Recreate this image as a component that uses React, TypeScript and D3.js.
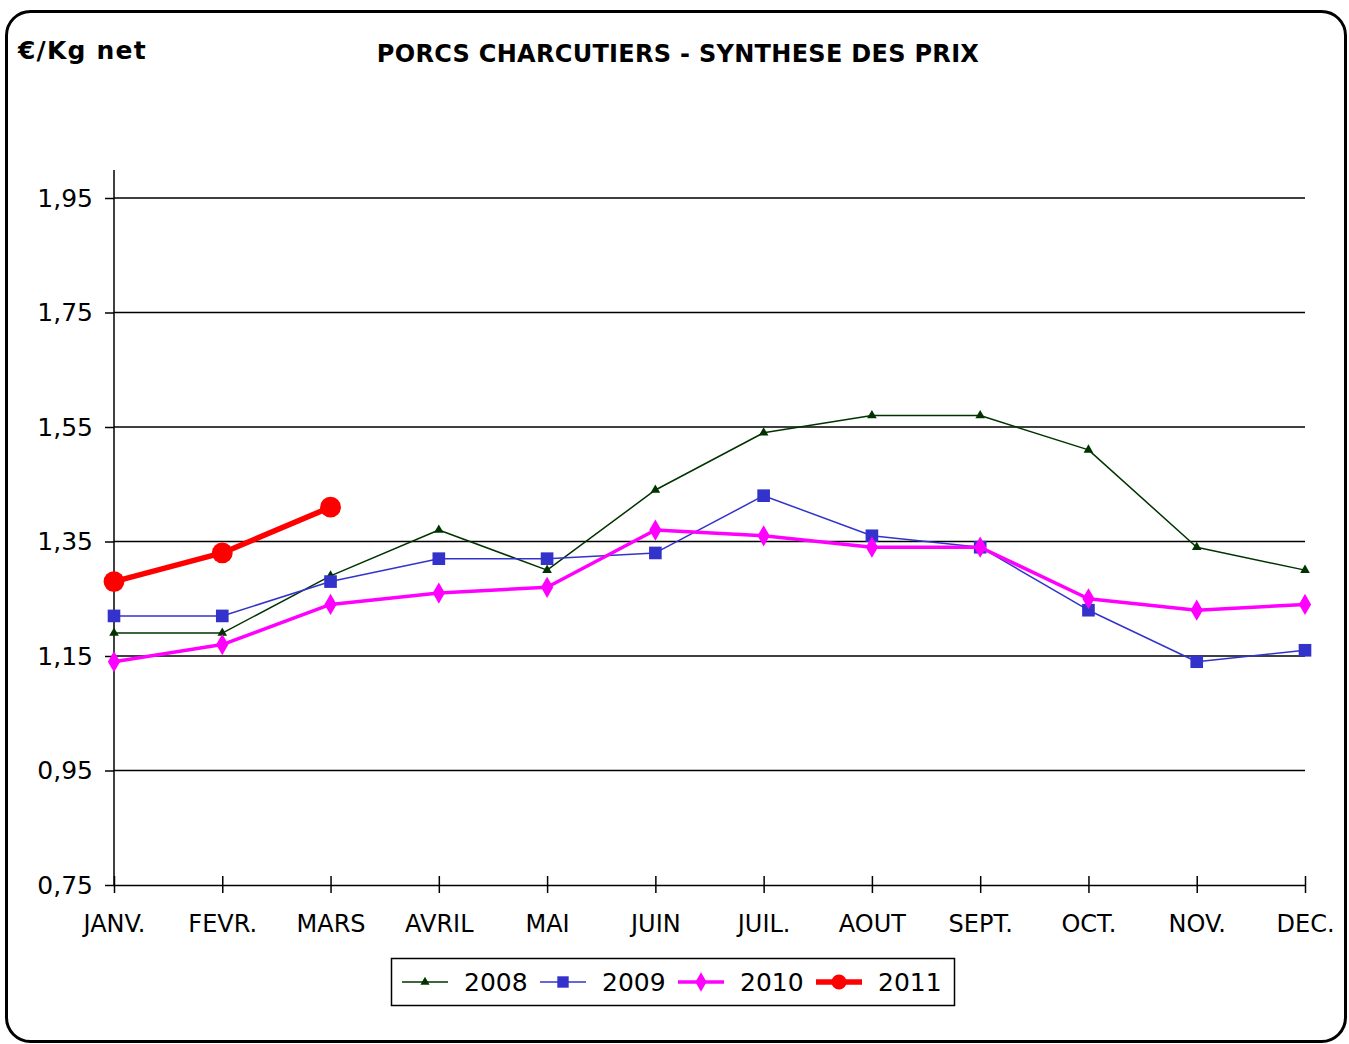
import { useEffect, useRef } from 'react';
import * as d3 from 'd3';

const months = ['JANV.', 'FEVR.', 'MARS', 'AVRIL', 'MAI', 'JUIN', 'JUIL.', 'AOUT', 'SEPT.', 'OCT.', 'NOV.', 'DEC.'];
const yTicks = [0.75, 0.95, 1.15, 1.35, 1.55, 1.75, 1.95];

const prices2008 = [1.19, 1.19, 1.29, 1.37, 1.3, 1.44, 1.54, 1.57, 1.57, 1.51, 1.34, 1.3];
const prices2009 = [1.22, 1.22, 1.28, 1.32, 1.32, 1.33, 1.43, 1.36, 1.34, 1.23, 1.14, 1.16];
const prices2010 = [1.14, 1.17, 1.24, 1.26, 1.27, 1.37, 1.36, 1.34, 1.34, 1.25, 1.23, 1.24];
const prices2011 = [1.28, 1.33, 1.41];

type Series = { name: string; values: number[]; color: string; width: number; symbol: d3.SymbolType; size: number; legendSize: number };

const series: Series[] = [
  { name: '2008', values: prices2008, color: '#003300', width: 1.5, symbol: d3.symbolTriangle, size: 40, legendSize: 36 },
  { name: '2009', values: prices2009, color: '#3333CC', width: 1.5, symbol: d3.symbolSquare, size: 160, legendSize: 130 },
  { name: '2010', values: prices2010, color: '#FF00FF', width: 3.5, symbol: d3.symbolDiamond, size: 130, legendSize: 110 },
  { name: '2011', values: prices2011, color: '#FF0000', width: 5.5, symbol: d3.symbolCircle, size: 340, legendSize: 180 },
];

const W = 1349;
const H = 1044;
const FONT = '"DejaVu Sans", Verdana, sans-serif';

export default function App() {
  const svgRef = useRef<SVGSVGElement>(null);

  useEffect(() => {
    const svg = d3.select(svgRef.current);
    svg.selectAll('*').remove();

    const x = d3.scalePoint<string>().domain(months).range([114, 1305]);
    const y = d3.scaleLinear().domain([0.75, 1.95]).range([885, 198]);
    const fmt = (v: number) => v.toFixed(2).replace('.', ',');

    // outer frame
    svg
      .append('rect')
      .attr('x', 6.5)
      .attr('y', 11.5)
      .attr('width', 1339)
      .attr('height', 1030)
      .attr('rx', 24)
      .attr('fill', '#fff')
      .attr('stroke', '#000')
      .attr('stroke-width', 3);

    svg
      .append('text')
      .attr('x', 18)
      .attr('y', 59)
      .attr('font-family', FONT)
      .attr('font-weight', 'bold')
      .attr('font-size', 25)
      .attr('letter-spacing', 1.2)
      .text('€/Kg net');

    svg
      .append('text')
      .attr('x', 678)
      .attr('y', 62)
      .attr('text-anchor', 'middle')
      .attr('font-family', FONT)
      .attr('font-weight', 'bold')
      .attr('font-size', 24)
      .attr('letter-spacing', 0.3)
      .text('PORCS CHARCUTIERS - SYNTHESE DES PRIX');

    // gridlines
    svg
      .append('g')
      .selectAll('line')
      .data(yTicks.slice(1))
      .join('line')
      .attr('x1', 114)
      .attr('x2', 1305)
      .attr('y1', (d) => y(d))
      .attr('y2', (d) => y(d))
      .attr('stroke', '#000')
      .attr('stroke-width', 1.5);

    // y axis
    const yAxis = svg
      .append('g')
      .attr('transform', 'translate(114,0)')
      .call(
        d3
          .axisLeft(y)
          .tickValues(yTicks)
          .tickFormat((d) => fmt(d as number))
          .tickSize(9)
          .tickPadding(12),
      );
    yAxis.select('.domain').attr('d', `M0,170V${y(0.75)}`).attr('stroke-width', 1.5);
    yAxis.selectAll('line').attr('stroke-width', 1.5);
    yAxis.selectAll('text').attr('font-family', FONT).attr('font-size', 25).attr('fill', '#000');

    // x axis
    const xAxis = svg
      .append('g')
      .attr('transform', `translate(0,${y(0.75)})`)
      .call(d3.axisBottom(x).tickSize(8).tickPadding(22).tickSizeOuter(0));
    xAxis.select('.domain').attr('stroke-width', 1.5);
    xAxis.selectAll('.tick line').attr('y1', -9).attr('y2', 8).attr('stroke-width', 1.5);
    xAxis.selectAll('text').attr('font-family', FONT).attr('font-size', 24).attr('fill', '#000');

    const line = d3
      .line<number>()
      .x((_d, i) => x(months[i]) as number)
      .y((d) => y(d));

    series.forEach((s) => {
      const g = svg.append('g');
      g.append('path')
        .attr('d', line(s.values))
        .attr('fill', 'none')
        .attr('stroke', s.color)
        .attr('stroke-width', s.width)
        .attr('stroke-linejoin', 'round');
      g.selectAll('path.m')
        .data(s.values)
        .join('path')
        .attr('class', 'm')
        .attr('transform', (d, i) => `translate(${x(months[i])},${y(d)})`)
        .attr('d', d3.symbol().type(s.symbol).size(s.size)())
        .attr('fill', s.color);
    });

    // legend
    const lg = svg.append('g');
    lg.append('rect')
      .attr('x', 391.5)
      .attr('y', 958.5)
      .attr('width', 563)
      .attr('height', 47)
      .attr('fill', '#fff')
      .attr('stroke', '#000')
      .attr('stroke-width', 1.5);
    const legendX = [402, 540, 678, 816];
    series.forEach((s, i) => {
      const lx = legendX[i];
      const ly = 982;
      lg.append('line')
        .attr('x1', lx)
        .attr('x2', lx + 46)
        .attr('y1', ly)
        .attr('y2', ly)
        .attr('stroke', s.color)
        .attr('stroke-width', s.width);
      lg.append('path')
        .attr('transform', `translate(${lx + 23},${ly})`)
        .attr('d', d3.symbol().type(s.symbol).size(s.legendSize)())
        .attr('fill', s.color);
      lg.append('text')
        .attr('x', lx + 62)
        .attr('y', ly + 9)
        .attr('font-family', FONT)
        .attr('font-size', 25)
        .text(s.name);
    });
  }, []);

  return (
    <svg
      ref={svgRef}
      width={W}
      height={H}
      viewBox={`0 0 ${W} ${H}`}
      style={{ position: 'absolute', left: 0, top: 0, display: 'block' }}
    />
  );
}
